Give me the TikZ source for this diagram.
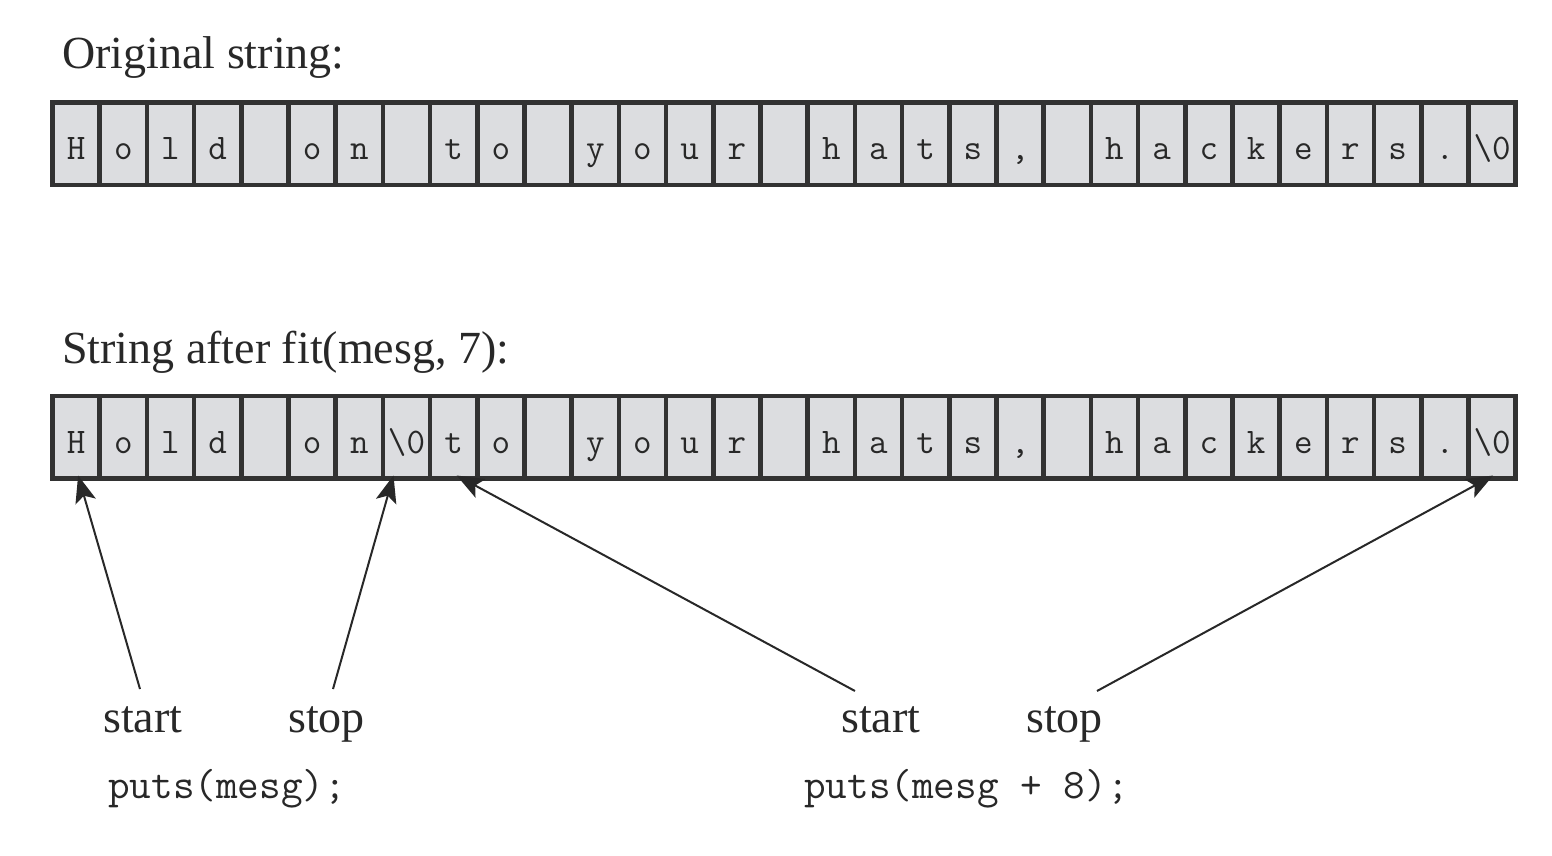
\documentclass[tikz,border=0pt]{standalone}
\usepackage{fontspec}
\setmainfont{Liberation Serif}
\usetikzlibrary{arrows.meta,calc}
\definecolor{cellgray}{RGB}{220,221,224}
\definecolor{linecol}{RGB}{50,50,50}
\definecolor{txtcol}{RGB}{40,40,40}
\begin{document}
\begin{tikzpicture}[x=1pt,y=-1pt,
  cellbox/.style={draw=linecol, fill=cellgray, line width=4.5pt, minimum width=47.2pt,
    minimum height=82.5pt, inner sep=0pt, text height=38pt, text depth=6pt,
    font=\fontsize{36}{36}\ttfamily, text=txtcol},
  lbl/.style={font=\fontsize{46}{50}\selectfont, text=txtcol, inner sep=0pt, anchor=base west},
  code/.style={font=\fontsize{42}{46}\ttfamily, text=txtcol, inner sep=0pt, anchor=base west},
  ptr/.style={draw=txtcol, line width=2pt, -{Stealth[length=27pt,width=21pt,inset=6pt]}}]
\useasboundingbox (0,0) rectangle (1552,855);

\node[lbl] (title1) at (62,68) {Original string:};
\node[lbl] (title2) at (62,363) {String after fit(mesg, 7):};

\foreach \ch [count=\i] in {{H},{o},{l},{d},{},{o},{n},{},{t},{o},{},{y},{o},{u},{r},{},{h},{a},{t},{s},{,},{},{h},{a},{c},{k},{e},{r},{s},{.},{\textbackslash 0}}
  \node[cellbox] (a\i) at ({52.5+47.2*(\i-0.5)},143.75) {\ch};

\foreach \ch [count=\i] in {{H},{o},{l},{d},{},{o},{n},{\textbackslash 0},{t},{o},{},{y},{o},{u},{r},{},{h},{a},{t},{s},{,},{},{h},{a},{c},{k},{e},{r},{s},{.},{\textbackslash 0}}
  \node[cellbox] (b\i) at ({52.5+47.2*(\i-0.5)},437) {\ch};

\node[lbl] (start1) at (103,732) {start};
\node[lbl] (stop1) at (288,732) {stop};
\node[lbl] (start2) at (841,732) {start};
\node[lbl] (stop2) at (1026,732) {stop};
\node[code] (code1) at (108,798) {puts(mesg);};
\node[code] (code2) at (804,798) {puts(mesg + 8);};

\coordinate (t1) at (140,689);
\coordinate (t2) at (333,689);
\coordinate (t3) at (855,691);
\coordinate (t4) at (1097,691);

\draw[ptr] (t1) -- ($(b1.south)+(2,-5)$);
\draw[ptr] (t2) -- ($(b8.south)+(-13,-5)$);
\draw[ptr] (t3) -- ($(b9.south)+(3,-5)$);
\draw[ptr] (t4) -- ($(b31.south)+(1,-5)$);
\end{tikzpicture}
\end{document}
